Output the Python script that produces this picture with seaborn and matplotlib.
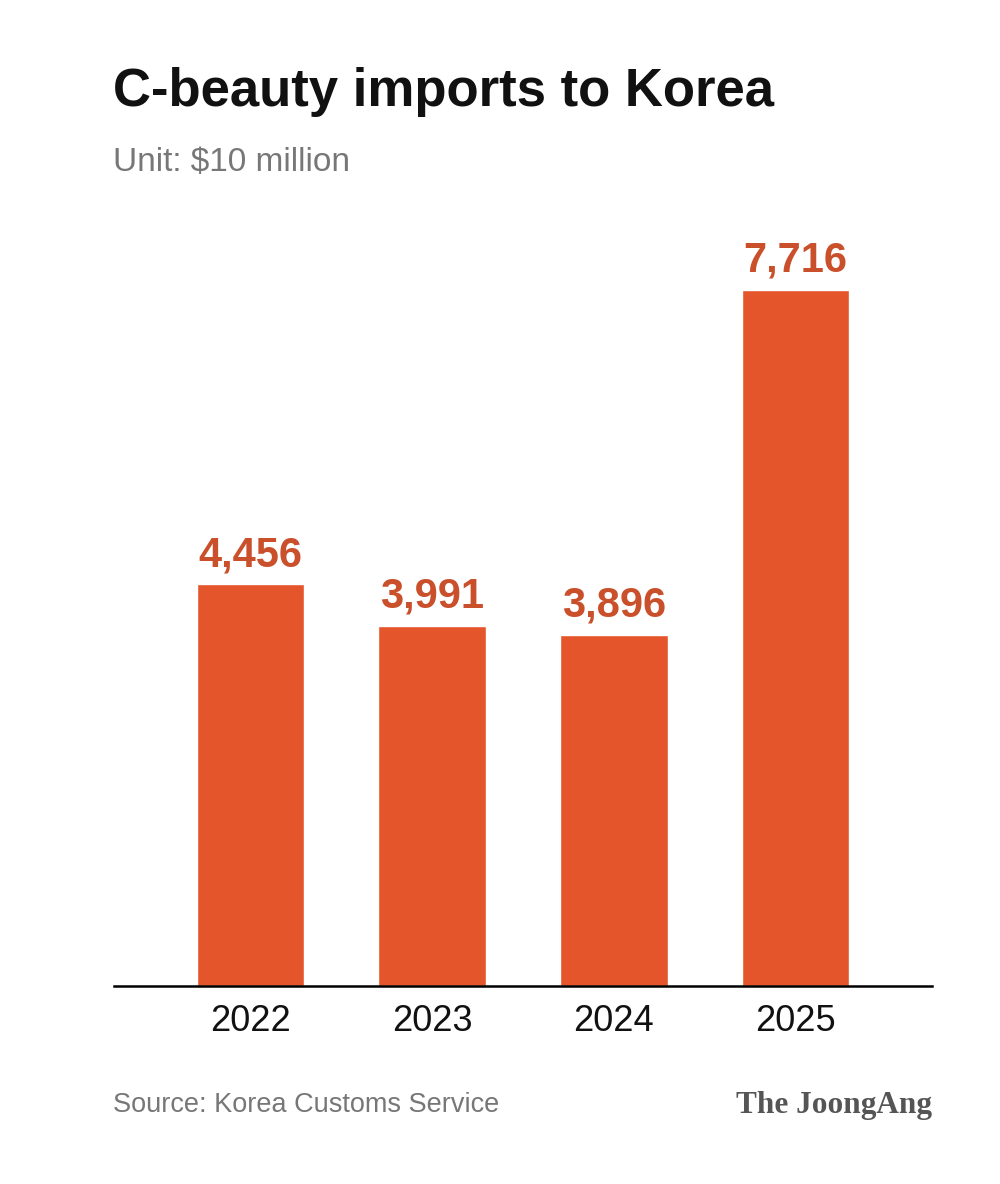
import matplotlib
matplotlib.use("Agg")
import matplotlib.pyplot as plt
import seaborn as sns
import pandas as pd

years = ["2022", "2023", "2024", "2025"]
imports = [4456, 3991, 3896, 7716]
value_labels = ["4,456", "3,991", "3,896", "7,716"]

title = "C-beauty imports to Korea"
subtitle = "Unit: $10 million"
source = "Source: Korea Customs Service"
brand = "The JoongAng"

bar_color = "#E4552B"
label_color = "#C9502B"

sns.set_theme(style="white")
plt.rcParams['font.family'] = ['Liberation Sans', 'DejaVu Sans']

W, H = 1000, 1184
fig = plt.figure(figsize=(W / 100, H / 100), dpi=100)
fig.patch.set_facecolor("white")

ax_left, ax_right = 114, 932
ax_bottom, ax_top = 986, 290
ax = fig.add_axes([ax_left / W, 1 - ax_bottom / H,
                   (ax_right - ax_left) / W, (ax_bottom - ax_top) / H])

df = pd.DataFrame({"year": years, "value": imports})
sns.barplot(data=df, x="year", y="value", order=years, color=bar_color,
            saturation=1, width=0.59, ax=ax)

ax.set_xlim(-0.75, 3.75)
ax.set_ylim(0, max(imports))

for i, (v, lab) in enumerate(zip(imports, value_labels)):
    ax.annotate(lab, (i, v), xytext=(0, 13), textcoords="offset points",
                ha="center", va="baseline", fontsize=30, fontweight="bold",
                color=label_color, annotation_clip=False)

for s in ["top", "right", "left"]:
    ax.spines[s].set_visible(False)
ax.spines["bottom"].set_color("black")
ax.spines["bottom"].set_linewidth(1.8)
ax.set_yticks([])
ax.set_xlabel("")
ax.set_ylabel("")
ax.tick_params(axis="x", length=0, pad=13, labelsize=26, labelcolor="#111111")
ax.set_facecolor("white")

fig.text(113 / W, 1 - 92 / H, title, fontsize=38, fontweight="bold",
         color="#111111", va="center", ha="left")
fig.text(113 / W, 1 - 162 / H, subtitle, fontsize=24, color="#777777",
         va="center", ha="left")
fig.text(113 / W, 1 - 1105 / H, source, fontsize=19.5, color="#777777",
         va="center", ha="left")
fig.text(932 / W, 1 - 1105 / H, brand, fontsize=22.5, fontweight="bold",
         color="#555555", va="center", ha="right",
         family=["Liberation Serif", "DejaVu Serif"])

fig.savefig("out.png", dpi=100, facecolor="white")
